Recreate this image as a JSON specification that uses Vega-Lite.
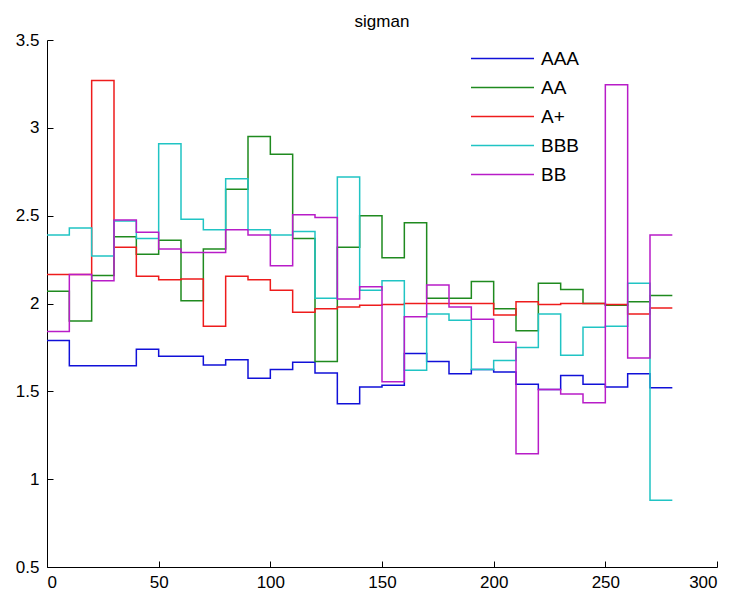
{
  "$schema": "https://vega.github.io/schema/vega-lite/v6.json",
  "width": 670,
  "height": 527,
  "autosize": {"type": "none"},
  "padding": {"left": 47, "top": 40, "right": 17, "bottom": 28},
  "background": "white",
  "title": {"text": "sigman", "fontSize": 17, "font": "Liberation Sans", "fontWeight": "normal", "color": "#000", "offset": 0},
  "datasets": {
    "d": [
      {"s":"AAA","x":0,"v":1.79},{"s":"AAA","x":10,"v":1.645},{"s":"AAA","x":20,"v":1.645},{"s":"AAA","x":30,"v":1.645},{"s":"AAA","x":40,"v":1.74},{"s":"AAA","x":50,"v":1.70},{"s":"AAA","x":60,"v":1.70},{"s":"AAA","x":70,"v":1.65},{"s":"AAA","x":80,"v":1.68},{"s":"AAA","x":90,"v":1.575},{"s":"AAA","x":100,"v":1.625},{"s":"AAA","x":110,"v":1.665},{"s":"AAA","x":120,"v":1.605},{"s":"AAA","x":130,"v":1.43},{"s":"AAA","x":140,"v":1.525},{"s":"AAA","x":150,"v":1.535},{"s":"AAA","x":160,"v":1.715},{"s":"AAA","x":170,"v":1.67},{"s":"AAA","x":180,"v":1.60},{"s":"AAA","x":190,"v":1.625},{"s":"AAA","x":200,"v":1.61},{"s":"AAA","x":210,"v":1.54},{"s":"AAA","x":220,"v":1.51},{"s":"AAA","x":230,"v":1.59},{"s":"AAA","x":240,"v":1.54},{"s":"AAA","x":250,"v":1.525},{"s":"AAA","x":260,"v":1.60},{"s":"AAA","x":270,"v":1.52},{"s":"AAA","x":280,"v":1.52},
      {"s":"AA","x":0,"v":2.07},{"s":"AA","x":10,"v":1.90},{"s":"AA","x":20,"v":2.16},{"s":"AA","x":30,"v":2.38},{"s":"AA","x":40,"v":2.28},{"s":"AA","x":50,"v":2.36},{"s":"AA","x":60,"v":2.015},{"s":"AA","x":70,"v":2.31},{"s":"AA","x":80,"v":2.65},{"s":"AA","x":90,"v":2.95},{"s":"AA","x":100,"v":2.85},{"s":"AA","x":110,"v":2.37},{"s":"AA","x":120,"v":1.67},{"s":"AA","x":130,"v":2.32},{"s":"AA","x":140,"v":2.50},{"s":"AA","x":150,"v":2.26},{"s":"AA","x":160,"v":2.46},{"s":"AA","x":170,"v":2.03},{"s":"AA","x":180,"v":2.03},{"s":"AA","x":190,"v":2.125},{"s":"AA","x":200,"v":1.97},{"s":"AA","x":210,"v":1.845},{"s":"AA","x":220,"v":2.115},{"s":"AA","x":230,"v":2.08},{"s":"AA","x":240,"v":2.00},{"s":"AA","x":250,"v":1.99},{"s":"AA","x":260,"v":2.01},{"s":"AA","x":270,"v":2.045},{"s":"AA","x":280,"v":2.045},
      {"s":"A+","x":0,"v":2.165},{"s":"A+","x":10,"v":2.165},{"s":"A+","x":20,"v":3.27},{"s":"A+","x":30,"v":2.32},{"s":"A+","x":40,"v":2.155},{"s":"A+","x":50,"v":2.135},{"s":"A+","x":60,"v":2.14},{"s":"A+","x":70,"v":1.87},{"s":"A+","x":80,"v":2.155},{"s":"A+","x":90,"v":2.135},{"s":"A+","x":100,"v":2.075},{"s":"A+","x":110,"v":1.95},{"s":"A+","x":120,"v":1.97},{"s":"A+","x":130,"v":1.98},{"s":"A+","x":140,"v":1.99},{"s":"A+","x":150,"v":1.995},{"s":"A+","x":160,"v":2.0},{"s":"A+","x":170,"v":2.0},{"s":"A+","x":180,"v":2.0},{"s":"A+","x":190,"v":2.0},{"s":"A+","x":200,"v":1.935},{"s":"A+","x":210,"v":2.01},{"s":"A+","x":220,"v":1.995},{"s":"A+","x":230,"v":2.0},{"s":"A+","x":240,"v":2.0},{"s":"A+","x":250,"v":1.995},{"s":"A+","x":260,"v":1.94},{"s":"A+","x":270,"v":1.975},{"s":"A+","x":280,"v":1.975},
      {"s":"BBB","x":0,"v":2.39},{"s":"BBB","x":10,"v":2.43},{"s":"BBB","x":20,"v":2.27},{"s":"BBB","x":30,"v":2.47},{"s":"BBB","x":40,"v":2.37},{"s":"BBB","x":50,"v":2.91},{"s":"BBB","x":60,"v":2.48},{"s":"BBB","x":70,"v":2.42},{"s":"BBB","x":80,"v":2.71},{"s":"BBB","x":90,"v":2.42},{"s":"BBB","x":100,"v":2.39},{"s":"BBB","x":110,"v":2.41},{"s":"BBB","x":120,"v":2.03},{"s":"BBB","x":130,"v":2.72},{"s":"BBB","x":140,"v":2.075},{"s":"BBB","x":150,"v":2.13},{"s":"BBB","x":160,"v":1.62},{"s":"BBB","x":170,"v":1.94},{"s":"BBB","x":180,"v":1.905},{"s":"BBB","x":190,"v":1.625},{"s":"BBB","x":200,"v":1.675},{"s":"BBB","x":210,"v":1.75},{"s":"BBB","x":220,"v":1.94},{"s":"BBB","x":230,"v":1.705},{"s":"BBB","x":240,"v":1.865},{"s":"BBB","x":250,"v":1.87},{"s":"BBB","x":260,"v":2.115},{"s":"BBB","x":270,"v":0.88},{"s":"BBB","x":280,"v":0.88},
      {"s":"BB","x":0,"v":1.84},{"s":"BB","x":10,"v":2.165},{"s":"BB","x":20,"v":2.13},{"s":"BB","x":30,"v":2.475},{"s":"BB","x":40,"v":2.405},{"s":"BB","x":50,"v":2.31},{"s":"BB","x":60,"v":2.29},{"s":"BB","x":70,"v":2.29},{"s":"BB","x":80,"v":2.42},{"s":"BB","x":90,"v":2.39},{"s":"BB","x":100,"v":2.215},{"s":"BB","x":110,"v":2.505},{"s":"BB","x":120,"v":2.49},{"s":"BB","x":130,"v":2.025},{"s":"BB","x":140,"v":2.095},{"s":"BB","x":150,"v":1.555},{"s":"BB","x":160,"v":1.925},{"s":"BB","x":170,"v":2.105},{"s":"BB","x":180,"v":1.98},{"s":"BB","x":190,"v":1.91},{"s":"BB","x":200,"v":1.78},{"s":"BB","x":210,"v":1.145},{"s":"BB","x":220,"v":1.51},{"s":"BB","x":230,"v":1.485},{"s":"BB","x":240,"v":1.435},{"s":"BB","x":250,"v":3.245},{"s":"BB","x":260,"v":1.69},{"s":"BB","x":270,"v":2.39},{"s":"BB","x":280,"v":2.39}
    ]
  },
  "data": {"name": "d"},
  "mark": {"type": "line", "interpolate": "step-after", "strokeWidth": 1.5},
  "encoding": {
    "x": {
      "field": "x", "type": "quantitative",
      "scale": {"domain": [0, 300], "nice": false, "zero": false},
      "axis": {"values": [0, 50, 100, 150, 200, 250, 300], "title": null, "labelPadding": 13}
    },
    "y": {
      "field": "v", "type": "quantitative",
      "scale": {"domain": [0.5, 3.5], "nice": false, "zero": false},
      "axis": {"values": [0.5, 1, 1.5, 2, 2.5, 3, 3.5], "format": ".1~f", "title": null, "labelPadding": 14}
    },
    "color": {
      "field": "s", "type": "nominal",
      "scale": {"domain": ["AAA", "AA", "A+", "BBB", "BB"], "range": ["#1010d8", "#1f8a1f", "#ee1c1c", "#20c4c4", "#b81cc8"]},
      "legend": {
        "title": null, "orient": "none", "legendX": 444, "legendY": 7,
        "symbolType": "M-3,0H3", "symbolSize": 441, "symbolStrokeWidth": 1.5,
        "rowPadding": 7, "labelFontSize": 19, "labelFont": "Liberation Sans",
        "labelColor": "#000", "labelOffset": 27, "padding": 0
      }
    }
  },
  "config": {
    "view": {"stroke": null},
    "axis": {
      "grid": false, "domainColor": "#000", "domainWidth": 1, "tickColor": "#000", "tickWidth": 1,
      "tickSize": -6, "labelColor": "#000", "labelFont": "Liberation Sans", "labelFontSize": 17
    }
  }
}
